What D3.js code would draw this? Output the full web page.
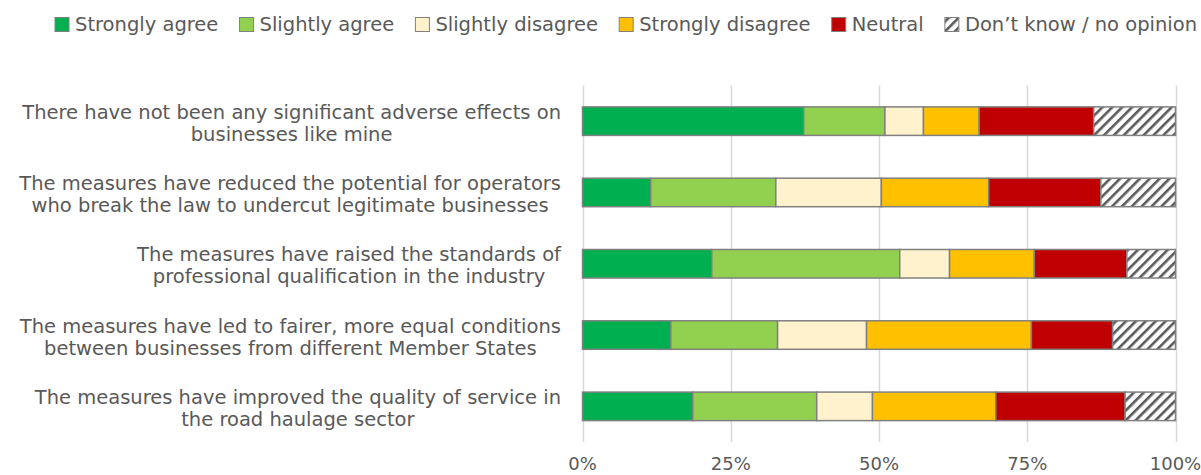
<!DOCTYPE html>
<html>
<head>
<meta charset="utf-8">
<script src="https://cdn.jsdelivr.net/npm/d3@7"></script>
<style>
  html, body { margin: 0; padding: 0; background: #fff; }
  svg { display: block; }
  text { font-family: "DejaVu Sans", Verdana, sans-serif; fill: #595959; }
</style>
</head>
<body>
<svg id="chart" width="1201" height="475"></svg>
<script>
// Survey statements (each wrapped onto two lines)
const categories = [
  ["There have not been any significant adverse effects on", "businesses like mine"],
  ["The measures have reduced the potential for operators", "who break the law to undercut legitimate businesses"],
  ["The measures have raised the standards of", "professional qualification in the industry"],
  ["The measures have led to fairer, more equal conditions", "between businesses from different Member States"],
  ["The measures have improved the quality of service in", "the road haulage sector"]
];

// Response shares (%) per statement, in the order above
const stronglyAgree    = [37.3, 11.5, 21.8, 14.9, 18.6];
const slightlyAgree    = [13.7, 21.1, 31.7, 18.0, 20.9];
const slightlyDisagree = [ 6.5, 17.8,  8.4, 15.0,  9.4];
const stronglyDisagree = [ 9.4, 18.1, 14.3, 27.8, 20.8];
const neutral          = [19.3, 18.9, 15.6, 13.7, 21.8];
const dontKnow         = [13.8, 12.6,  8.2, 10.6,  8.5];

const seriesNames = ["Strongly agree", "Slightly agree", "Slightly disagree",
                     "Strongly disagree", "Neutral", "Don\u2019t know / no opinion"];
const seriesValues = [stronglyAgree, slightlyAgree, slightlyDisagree,
                      stronglyDisagree, neutral, dontKnow];
const seriesFills = ["#00B050", "#92D050", "#FFF2CC", "#FFC000", "#C00000", "url(#hatch)"];

const tickValues = [0, 25, 50, 75, 100];

const svg = d3.select("#chart");
const FONT = 19.5;
const TICK_FONT = 18;

// diagonal hatch used for "don't know"
const defs = svg.append("defs");
const pat = defs.append("pattern")
  .attr("id", "hatch")
  .attr("patternUnits", "userSpaceOnUse")
  .attr("width", 7).attr("height", 7)
  .attr("patternTransform", "rotate(45)");
pat.append("rect").attr("width", 7).attr("height", 7).attr("fill", "#fff");
pat.append("rect").attr("x", 0).attr("y", 0).attr("width", 2.6).attr("height", 7).attr("fill", "#595959");

const plot = { left: 582.5, right: 1175.5, top: 85.5, bottom: 442 };

const x = d3.scaleLinear().domain([0, 100]).range([plot.left, plot.right]);
const y = d3.scaleBand().domain(d3.range(categories.length))
  .range([plot.top, plot.bottom]).paddingInner(0.6).paddingOuter(0.3);

// vertical gridlines
svg.append("g").selectAll("line").data(tickValues).join("line")
  .attr("x1", d => Math.round(x(d)) + 0.5).attr("x2", d => Math.round(x(d)) + 0.5)
  .attr("y1", plot.top).attr("y2", plot.bottom)
  .attr("stroke", "#D9D9D9").attr("stroke-width", 1.5);

// tick labels
svg.append("g").selectAll("text").data(tickValues).join("text")
  .attr("x", d => x(d)).attr("y", 470)
  .attr("text-anchor", "middle")
  .attr("font-size", TICK_FONT)
  .text(d => d + "%");

// stacked segments
const rows = categories.map((c, i) => {
  let acc = 0;
  return seriesValues.map((vals, s) => {
    const seg = { row: i, s, x0: acc, x1: acc + vals[i] };
    acc += vals[i];
    return seg;
  });
});
svg.append("g").selectAll("rect").data(rows.flat()).join("rect")
  .attr("x", d => x(d.x0))
  .attr("width", d => x(d.x1) - x(d.x0))
  .attr("y", d => y(d.row))
  .attr("height", y.bandwidth())
  .attr("fill", d => seriesFills[d.s])
  .attr("stroke", "#808080").attr("stroke-width", 1.5);

// category labels: right-aligned block, lines centred within it
const labelRight = 561;
categories.forEach((lines, i) => {
  const g = svg.append("g");
  const cy = y(i) + y.bandwidth() / 2;
  const texts = g.selectAll("text").data(lines).join("text")
    .attr("font-size", FONT)
    .attr("y", (d, k) => cy - 2.5 + k * 22)
    .attr("text-anchor", "middle")
    .text(d => d);
  let maxW = 0;
  texts.each(function () { maxW = Math.max(maxW, this.getComputedTextLength()); });
  texts.attr("x", labelRight - maxW / 2);
});

// legend: spread across the top from x=55 to x=1197
const legend = svg.append("g");
const items = seriesNames.map((name, s) => {
  const g = legend.append("g");
  g.append("rect")
    .attr("x", 0).attr("y", 17.5).attr("width", 14).attr("height", 14)
    .attr("fill", seriesFills[s]).attr("stroke", "#808080").attr("stroke-width", 1);
  const t = g.append("text")
    .attr("x", 20).attr("y", 31)
    .attr("font-size", FONT)
    .text(name);
  return { g, w: 20 + t.node().getComputedTextLength() };
});
const legStart = 55, legEnd = 1197;
const gap = (legEnd - legStart - d3.sum(items, d => d.w)) / (items.length - 1);
let lx = legStart;
items.forEach(it => {
  it.g.attr("transform", `translate(${lx},0)`);
  lx += it.w + gap;
});
</script>
</body>
</html>
